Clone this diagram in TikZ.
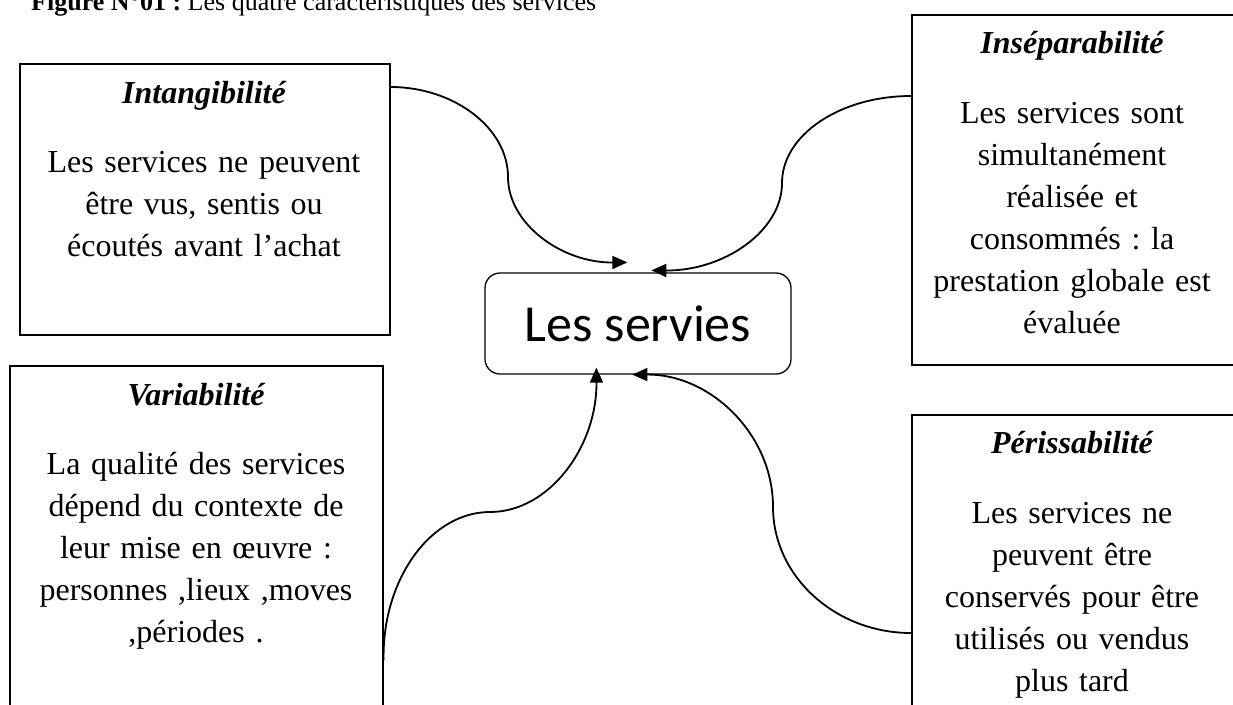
\documentclass[tikz,border=0pt]{standalone}
\usepackage{fontspec}
\setmainfont{Liberation Serif}
\newfontfamily\calibrifont{Carlito}
\usetikzlibrary{arrows.meta,calc}
\frenchspacing
\tikzset{
  card/.style={draw=black, line width=1.6pt, inner sep=0pt, anchor=north west},
  head/.style={anchor=base, inner sep=0pt, font=\fontsize{32}{42}\selectfont\bfseries\itshape},
  body/.style={anchor=base, inner sep=0pt, text width=340pt, align=center, font=\fontsize{32}{42}\selectfont\frenchspacing},
  core/.style={draw=black, rounded corners=15pt, line width=1.3pt, minimum width=306pt, minimum height=101pt, inner sep=0pt, font=\calibrifont\fontsize{52}{60}\selectfont},
  link/.style={draw=black, line width=1.8pt, -{Triangle[length=15pt,width=13pt]}}
}
\begin{document}
\begin{tikzpicture}[x=1pt,y=-1pt]
\fill[white] (0,0) rectangle (1233,704);
\clip (0,0) rectangle (1233,704);

% title (cut at the top)
\node[anchor=base west, inner sep=0pt, font=\fontsize{26}{30}\selectfont\frenchspacing] (title) at (31,10)
  {\textbf{Figure N°01 :} Les quatre caractéristiques des services};

% boxes
\node[card, minimum width=370pt, minimum height=271pt] (intang) at (19,63) {};
\node[card, minimum width=330pt, minimum height=350pt] (insep) at (911,14) {};
\node[card, minimum width=373pt, minimum height=350pt] (variab) at (9,365) {};
\node[card, minimum width=330pt, minimum height=300pt] (periss) at (911,414) {};

% texts
\node[head] (intangT) at (204,103) {Intangibilité};
\node[body] (intangB) at (204,172) {Les services ne peuvent\\ être vus, sentis ou\\ écoutés avant l’achat};

\node[head] (insepT) at (1072,53) {Inséparabilité};
\node[body] (insepB) at (1072,123) {Les services sont\\ simultanément\\ réalisée et\\ consommés : la\\ prestation globale est\\ évaluée};

\node[head] (variabT) at (196,405) {Variabilité};
\node[body] (variabB) at (196,474) {La qualité des services\\ dépend du contexte de\\ leur mise en œuvre :\\ personnes ,lieux ,moves\\ ,périodes .};

\node[head] (perissT) at (1072,453) {Périssabilité};
\node[body] (perissB) at (1072,523) {Les services ne\\ peuvent être\\ conservés pour être\\ utilisés ou vendus\\ plus tard};

% centre
\node[core] (serv) at (638,323.5) {Les servies};

% connector ends
\coordinate (s1) at ($(intang.north east)+(0,24)$);
\coordinate (t1) at ($(serv.north west)+(143,-10)$);
\coordinate (s2) at ($(insep.north west)+(0,82)$);
\coordinate (t2) at ($(serv.north west)+(167,-2)$);
\coordinate (s3) at ($(variab.north east)+(0,295)$);
\coordinate (t3) at ($(serv.south west)+(112,-7)$);
\coordinate (s4) at ($(periss.north west)+(0,219)$);
\coordinate (t4) at ($(serv.south west)+(148,0)$);
\coordinate (m1) at (508,177);
\coordinate (m2) at (782,183);
\coordinate (m3) at (490,512);
\coordinate (m4) at (773,507);

% connectors
\draw[link] (s1) .. controls (454,87) and (508,128) .. (m1)
                 .. controls (508,224) and (562,263) .. (t1);
\draw[link] (s2) .. controls (840,96) and (782,135) .. (m2)
                 .. controls (782,231) and (724,271) .. (t2);
\draw[link] (s3) .. controls (382,579) and (431,512) .. (m3)
                 .. controls (549,512) and (597,447) .. (t3);
\draw[link] (s4) .. controls (835,633) and (773,576) .. (m4)
                 .. controls (773,434) and (710,374) .. (t4);
\end{tikzpicture}
\end{document}
